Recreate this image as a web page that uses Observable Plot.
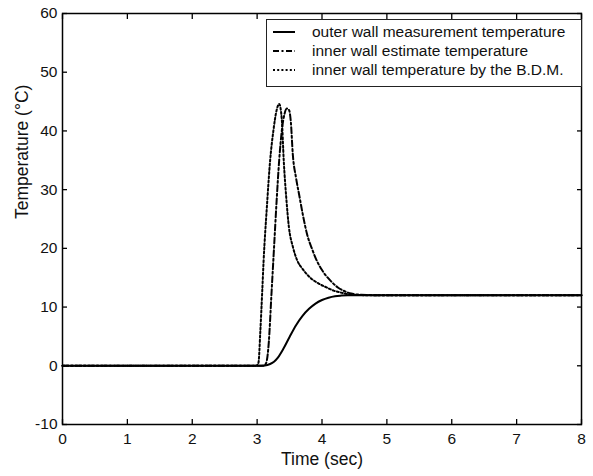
<!DOCTYPE html>
<html>
<head>
<meta charset="utf-8">
<script src="https://cdn.jsdelivr.net/npm/d3@7"></script>
<script src="https://cdn.jsdelivr.net/npm/@observablehq/plot@0.6"></script>
<style>
  html, body { margin: 0; padding: 0; background: #fff; }
  #wrap { position: relative; width: 593px; height: 476px; font-family: "Liberation Sans", Arial, sans-serif; }
  #legend { position: absolute; left: 266px; top: 19px; width: 314px; height: 64px; border: 1px solid #222; background: #fff; padding-top: 2px; box-sizing: content-box; }
  .row { display: flex; align-items: center; height: 19px; font-size: 15.5px; color: #111; white-space: nowrap; }
  .row svg { margin-left: 5px; margin-right: 16px; }
</style>
</head>
<body>
<div id="wrap"></div>
<script>
const xTicks = [0, 1, 2, 3, 4, 5, 6, 7, 8];
const yTicks = [-10, 0, 10, 20, 30, 40, 50, 60];
const seriesNames = [
  "outer wall measurement temperature",
  "inner wall estimate temperature",
  "inner wall temperature by the B.D.M."
];

const outerT = [0, 1, 2, 3, 3.12, 3.2, 3.26, 3.32, 3.4, 3.5, 3.6, 3.7, 3.8, 3.9, 4.0, 4.1, 4.2, 4.3, 4.4, 4.6, 5, 6, 7, 8];
const outerV = [0, 0, 0, 0, 0.05, 0.3, 0.7, 1.4, 2.8, 4.9, 6.9, 8.5, 9.7, 10.6, 11.2, 11.6, 11.85, 11.95, 12.0, 12.0, 12, 12, 12, 12];

const estT = [0, 1, 2, 3, 3.1, 3.14, 3.18, 3.22, 3.26, 3.3, 3.34, 3.38, 3.42, 3.46, 3.49, 3.52, 3.55, 3.6, 3.65, 3.7, 3.77, 3.85, 3.92, 4.0, 4.13, 4.25, 4.33, 4.45, 4.6, 5, 6, 7, 8];
const estV = [0, 0, 0, 0, 0, 0.5, 4, 12, 20, 28, 35, 40, 42.8, 43.8, 43.6, 41.5, 36, 32, 29, 26, 22.4, 19.8, 17.9, 16.3, 14.5, 13.3, 12.8, 12.3, 12.1, 12, 12, 12, 12];

const bdmT = [0, 1, 2, 2.98, 3.02, 3.05, 3.08, 3.1, 3.15, 3.2, 3.25, 3.3, 3.34, 3.38, 3.41, 3.45, 3.49, 3.55, 3.62, 3.7, 3.82, 3.95, 4.08, 4.18, 4.28, 4.4, 4.55, 5, 6, 7, 8];
const bdmV = [0, 0, 0, 0, 0.5, 6, 13, 17.9, 27, 34.9, 40, 43.5, 44.6, 42, 35, 28.5, 23.6, 20.3, 17.9, 16.5, 15.0, 14.0, 13.3, 12.8, 12.5, 12.2, 12.05, 12, 12, 12, 12];

const styles = [
  {dash: null, width: 2},
  {dash: "6,2.5,2,2.5", width: 2},
  {dash: "2,2.2", width: 2}
];
const seriesT = [outerT, estT, bdmT];
const seriesV = [outerV, estV, bdmV];

const rows = seriesNames.map((name, k) => seriesT[k].map((t, i) => ({name, t, v: seriesV[k][i]})));

const lineMarks = rows.map((data, k) => Plot.line(data, {
  x: "t", y: "v", stroke: "black", strokeWidth: styles[k].width,
  strokeDasharray: styles[k].dash, curve: "monotone-x"
}));

const plain = d => String(d);

const chart = Plot.plot({
  width: 593,
  height: 476,
  marginLeft: 62,
  marginRight: 12,
  marginTop: 13,
  marginBottom: 52,
  x: {domain: [0, 8]},
  y: {domain: [-10, 60]},
  style: {fontFamily: "'Liberation Sans', Arial, sans-serif", fontSize: "15px", color: "#111", background: "#fff"},
  marks: [
    ...lineMarks,
    Plot.frame({stroke: "black", strokeWidth: 1.5}),
    Plot.axisX(xTicks, {anchor: "bottom", tickSize: -5, tickPadding: 13, tickFormat: plain, label: null, fontSize: 15.5, stroke: "black", strokeWidth: 1.3}),
    Plot.axisX(xTicks, {anchor: "top", tickSize: -5, tickFormat: () => "", label: null, stroke: "black", strokeWidth: 1.3}),
    Plot.axisY(yTicks, {anchor: "left", tickSize: -5, tickPadding: 10, tickFormat: plain, label: null, fontSize: 15.5, stroke: "black", strokeWidth: 1.3}),
    Plot.axisY(yTicks, {anchor: "right", tickSize: -5, tickFormat: () => "", label: null, stroke: "black", strokeWidth: 1.3}),
    Plot.text(["Time (sec)"], {frameAnchor: "bottom", dy: 40, fontSize: 17.5, fill: "#111"}),
    Plot.text(["Temperature (°C)"], {frameAnchor: "left", dx: -40, rotate: -90, fontSize: 17.5, fill: "#111"})
  ]
});

const wrap = document.getElementById("wrap");
wrap.appendChild(chart);

const legend = document.createElement("div");
legend.id = "legend";
seriesNames.forEach((name, k) => {
  const row = document.createElement("div");
  row.className = "row";
  const svg = d3.create("svg").attr("width", 24).attr("height", 10);
  svg.append("line").attr("x1", 1).attr("x2", 23).attr("y1", 5).attr("y2", 5)
    .attr("stroke", "black").attr("stroke-width", styles[k].width)
    .attr("stroke-dasharray", styles[k].dash);
  row.appendChild(svg.node());
  const span = document.createElement("span");
  span.textContent = name;
  row.appendChild(span);
  legend.appendChild(row);
});
wrap.appendChild(legend);
</script>
</body>
</html>
